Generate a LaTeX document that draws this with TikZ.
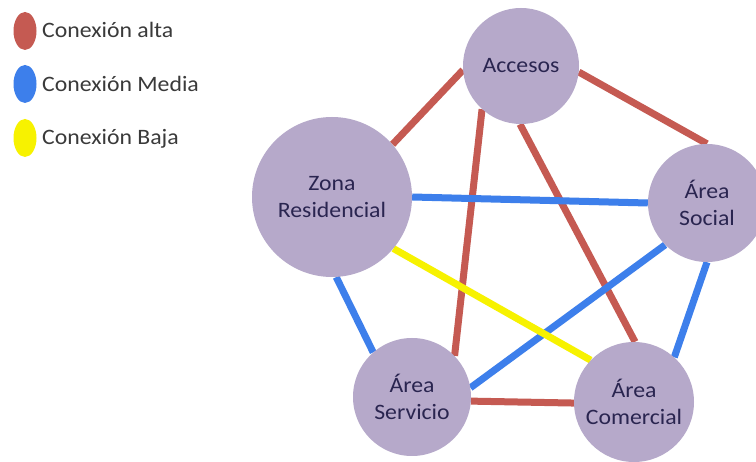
\documentclass[tikz,border=0pt]{standalone}
\usepackage{fontspec}
\setmainfont{Carlito}[FakeStretch=1.08]
\usetikzlibrary{shapes.geometric}
\pgfdeclarelayer{bg}
\pgfsetlayers{bg,main}
\definecolor{nodefill}{HTML}{B6A9CA}
\definecolor{nodetext}{HTML}{2A2550}
\definecolor{legtext}{HTML}{3A3A3A}
\definecolor{cred}{HTML}{C55A52}
\definecolor{cblue}{HTML}{3D7FEB}
\definecolor{cyellow}{HTML}{F7F200}
\tikzset{
  zone/.style={circle, fill=nodefill, inner sep=0pt, text=nodetext, align=center,
    font=\fontsize{22}{27}\selectfont},
  alta/.style={draw=cred, line width=7pt},
  media/.style={draw=cblue, line width=7pt},
  baja/.style={draw=cyellow, line width=7pt},
  legdot/.style={ellipse, inner sep=0pt, minimum width=23pt, minimum height=38pt},
  legtxt/.style={anchor=base west, text=legtext, inner sep=0pt, font=\fontsize{22}{26}\selectfont}
}
\begin{document}
\begin{tikzpicture}[x=1pt, y=-1pt]
\useasboundingbox (0,0) rectangle (756,462);

% legend
\node[legdot, fill=cred] (dr) at (25,31) {};
\node[legdot, fill=cblue] (db) at (25,84) {};
\node[legdot, fill=cyellow] (dy) at (25,138) {};
\node[legtxt] (lr) at (42,38) {Conexión alta};
\node[legtxt] (lb) at (42,92) {Conexión Media};
\node[legtxt] (ly) at (42,145) {Conexión Baja};

% nodes
\node[zone, minimum size=116pt] (acc) at (521,66) {Accesos};
\node[zone, minimum size=160pt] (zona) at (332,197) {Zona\\Residencial};
\node[zone, minimum size=118pt] (soc) at (707,203) {Área\\Social};
\node[zone, minimum size=118pt] (serv) at (412,397) {Área\\Servicio};
\node[zone, minimum size=120pt] (com) at (634,402) {Área\\Comercial};

% connectors
\begin{pgfonlayer}{bg}
\fill[white] (0,0) rectangle (756,462);
\draw[alta] (acc.184) -- (zona.41);
\draw[alta] (acc.354) -- (soc.90);
\draw[alta] (acc.228) -- (serv.44);
\draw[alta] (acc.269) -- (com.89);
\draw[alta] (serv.356) -- (com.181);
\draw[media] (zona.0) -- (soc.180);
\draw[media] (zona.273) -- (serv.131);
\draw[media] (soc.225) -- (serv.9);
\draw[media] (soc.270) -- (com.48);
\draw[baja] (zona.320) -- (com.136);
\end{pgfonlayer}
\end{tikzpicture}
\end{document}
